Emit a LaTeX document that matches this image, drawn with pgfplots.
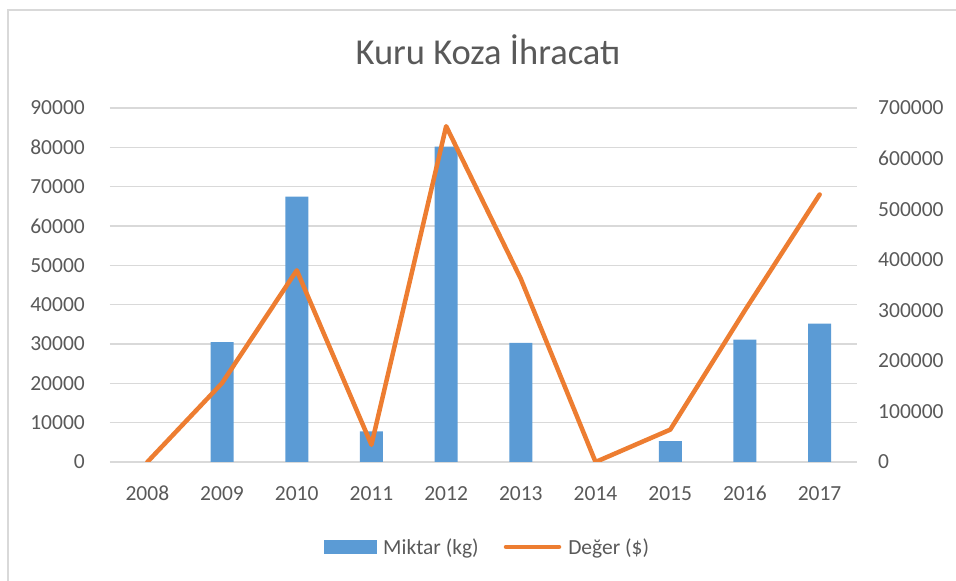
\documentclass[border=0pt]{standalone}
\usepackage{fontspec}
\setmainfont{Carlito}
\usepackage{pgfplots}
\pgfplotsset{compat=1.18}
\definecolor{barblue}{HTML}{5B9BD5}
\definecolor{lineorange}{HTML}{ED7D31}
\definecolor{gridgray}{HTML}{D9D9D9}
\definecolor{textgray}{HTML}{595959}
\begin{document}
\begin{tikzpicture}[x=1pt,y=1pt]
\useasboundingbox (0,0) rectangle (956,581);
\draw[gridgray, line width=1.2pt] (8,-5) -- (8,571) -- (962,571);
\pgfplotsset{
  common/.style={
    scale only axis,
    width=747pt, height=354pt,
    at={(110pt,119pt)}, anchor=south west,
    xmin=2007.5, xmax=2017.5,
    axis line style={draw=none},
    major tick length=0pt,
    tick label style={font=\fontsize{21.5}{24}\selectfont, text=textgray,
      /pgf/number format/fixed, /pgf/number format/precision=0,
      /pgf/number format/1000 sep={}},
    /pgf/number format/assume math mode=true,
  }
}
\begin{axis}[common,
  ymin=0, ymax=90000, ytick={0,10000,...,90000},
  scaled y ticks=false,
  ymajorgrids, grid style={gridgray, line width=1.1pt},
  xtick={2008,...,2017},
  xticklabel style={anchor=north, inner sep=0pt, yshift=-24pt},
  yticklabel style={anchor=east, inner sep=0pt, xshift=-25pt},
  title={Kuru Koza İhracatı},
  title style={at={(0.506,1.147)}, anchor=center, font=\fontsize{36.5}{40}\selectfont, text=textgray},
]
\addplot[ybar, bar width=23pt, fill=barblue, draw=none] coordinates {
  (2009,30500) (2010,67500) (2011,7800) (2012,80200) (2013,30300)
  (2015,5300) (2016,31100) (2017,35200)
};
\end{axis}
\begin{axis}[common,
  ymin=0, ymax=700000, ytick={0,100000,...,700000},
  scaled y ticks=false,
  axis y line*=right,
  axis x line=none,
  yticklabel style={anchor=west, inner sep=0pt, xshift=21pt},
  legend style={at={(0.506,-0.24)}, anchor=center, draw=none, fill=none,
    legend columns=2, font=\fontsize{21.5}{24}\selectfont, text=textgray,
    nodes={inner sep=3pt},
    /tikz/every odd column/.style={column sep=4pt},
    /tikz/every even column/.style={column sep=22pt},
    inner sep=0pt},
  legend cell align=left,
]
\addlegendimage{legend image code/.code={\fill[barblue] (0pt,-6.5pt) rectangle (52pt,6.5pt);}}
\addlegendentry{Miktar (kg)}
\addplot[lineorange, line width=4.5pt, line join=round, line cap=round, mark=none,
  legend image code/.code={\draw[lineorange, line width=4.5pt, line cap=round] (2pt,0pt) -- (55pt,0pt);}]
  coordinates {
  (2008,0) (2009,156000) (2010,379000) (2011,34000) (2012,664000)
  (2013,362000) (2014,0) (2015,64000) (2016,300000) (2017,529000)
};
\addlegendentry{Değer (\$)}
\end{axis}
\end{tikzpicture}
\end{document}
